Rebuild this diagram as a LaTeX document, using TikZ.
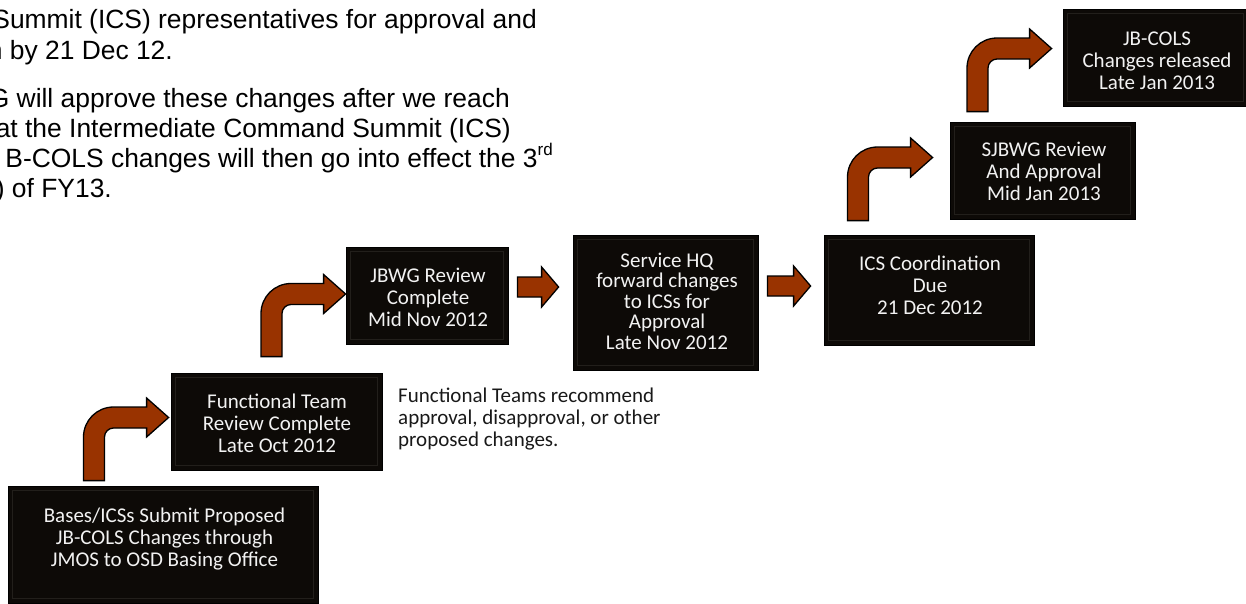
\documentclass[tikz,border=0pt]{standalone}
\usepackage{fontspec}
\setmainfont{Liberation Sans}
\newfontfamily\carlito{Carlito}
\usetikzlibrary{calc}
\definecolor{boxfill}{RGB}{13,10,7}
\definecolor{bevelc}{RGB}{34,31,27}
\definecolor{arrowfill}{RGB}{153,51,0}
\newcommand{\bentarr}[2]{%
  \path[blockarrow] let \p1=(#1), \p2=(#2) in
  (\x1-10.5pt,\y1) -- (\x1-10.5pt,\y2+10.5pt-30pt)
  arc[start angle=180,end angle=90,radius=30pt]
  -- (\x2-22pt,\y2+10.5pt) -- (\x2-22pt,\y2+19.5pt) -- (\x2,\y2)
  -- (\x2-22pt,\y2-19.5pt) -- (\x2-22pt,\y2-10.5pt)
  -- (\x1+19.5pt,\y2-10.5pt)
  arc[start angle=90,end angle=180,radius=9pt]
  -- (\x1+10.5pt,\y1) -- cycle;}
\newcommand{\straightarr}[2]{%
  \path[blockarrow] let \p1=(#1), \p2=(#2) in
  (\x1,\y1+10pt) -- (\x2-17pt,\y1+10pt) -- (\x2-17pt,\y1+20pt) -- (\x2,\y1)
  -- (\x2-17pt,\y1-20pt) -- (\x2-17pt,\y1-10pt) -- (\x1,\y1-10pt) -- cycle;}
\tikzset{
  stagebox/.style={fill=boxfill, draw=black, line width=0.8pt, inner sep=0pt},
  bevel/.style={draw=bevelc, line width=1pt},
  boxtext/.style={text=white!95!black, font=\carlito\fontsize{21}{22}\selectfont, align=center, inner sep=0pt},
  notetext/.style={text=black!90, font=\carlito\fontsize{21}{21.7}\selectfont, align=left, inner sep=0pt},
  bodytext/.style={text=black, font=\fontsize{26.4}{30}\selectfont, inner sep=0pt},
  blockarrow/.style={fill=arrowfill, draw=black, line width=1.3pt, line join=miter},
}
\begin{document}
\begin{tikzpicture}[x=1pt,y=-1pt]
\useasboundingbox (0,0) rectangle (1246,603);
% top-left text (cut off at the left edge)
\node[bodytext, anchor=base east] (l1) at (537,28) {Summit (ICS) representatives for approval and};
\node[bodytext, anchor=base east] (l2) at (173,59) {n by 21 Dec 12.};
\node[bodytext, anchor=base east] (l3) at (510,107) {G will approve these changes after we reach};
\node[bodytext, anchor=base east] (l4) at (511,137) {at the Intermediate Command Summit (ICS)};
\node[bodytext, anchor=base east] (l5) at (553,167) {B-COLS changes will then go into effect the 3\raisebox{0.42em}{\fontsize{17}{17}\selectfont rd}};
\node[bodytext, anchor=base east] (l6) at (112,197) {) of FY13.};
% boxes
\node[stagebox, minimum width=310pt, minimum height=117pt] (b1) at (163,544.5) {};
\node[stagebox, minimum width=211pt, minimum height=97pt] (b2) at (276.5,421.5) {};
\node[stagebox, minimum width=162pt, minimum height=97pt] (b3) at (427,295.5) {};
\node[stagebox, minimum width=185pt, minimum height=135pt] (b4) at (665.5,302.5) {};
\node[stagebox, minimum width=210pt, minimum height=110pt] (b5) at (929,290) {};
\node[stagebox, minimum width=185pt, minimum height=97pt] (b6) at (1042.5,170.5) {};
\node[stagebox, minimum width=185pt, minimum height=97pt] (b7) at (1155.5,57.5) {};
\foreach \b in {b1,b2,b3,b4,b5,b6,b7}{
  \draw[bevel] ([shift={(5pt,-5pt)}]\b.north west) rectangle ([shift={(-5pt,5pt)}]\b.south east);
}
% box texts
\node[boxtext] (t1) at (164.5,539) {Bases/ICSs Submit Proposed\\JB-COLS Changes through\\JMOS to OSD Basing Office};
\node[boxtext] (t2) at (277,423) {Functional Team\\Review Complete\\Late Oct 2012};
\node[boxtext] (t3) at (428,297.5) {JBWG Review\\Complete\\Mid Nov 2012};
\node[boxtext, font=\carlito\fontsize{21}{20.5}\selectfont] (t4) at (667,301) {Service HQ\\forward changes\\to ICSs for\\Approval\\Late Nov 2012};
\node[boxtext] (t5) at (930,285.5) {ICS Coordination\\Due\\21 Dec 2012};
\node[boxtext] (t6) at (1044,171.5) {SJBWG Review\\And Approval\\Mid Jan 2013};
\node[boxtext] (t7) at (1157,60.5) {JB-COLS\\Changes released\\Late Jan 2013};
% note
\node[notetext, anchor=north west] (note) at (398,388) {Functional Teams recommend\\approval, disapproval, or other\\proposed changes.};
% arrow end points
\coordinate (a1s) at ([xshift=-69pt,yshift=5pt]b1.north);
\coordinate (a1e) at ([xshift=-2pt,yshift=4pt]b2.west);
\coordinate (a2s) at ([xshift=-5pt,yshift=16pt]b2.north);
\coordinate (a2e) at ([yshift=1.5pt]b3.west);
\coordinate (s1s) at ([xshift=9pt,yshift=8.5pt]b3.east);
\coordinate (s1e) at ([xshift=-14pt,yshift=15.5pt]b4.west);
\coordinate (s2s) at ([xshift=9pt,yshift=16.5pt]b4.east);
\coordinate (s2e) at ([xshift=-13pt,yshift=4pt]b5.west);
\coordinate (a3s) at ([xshift=-71pt,yshift=14pt]b5.north);
\coordinate (a3e) at ([xshift=-17pt,yshift=13pt]b6.west);
\coordinate (a4s) at ([xshift=-65pt,yshift=10pt]b6.north);
\coordinate (a4e) at ([xshift=-11pt,yshift=9pt]b7.west);
% arrows
\bentarr{a1s}{a1e}
\bentarr{a2s}{a2e}
\straightarr{s1s}{s1e}
\straightarr{s2s}{s2e}
\bentarr{a3s}{a3e}
\bentarr{a4s}{a4e}
\end{tikzpicture}
\end{document}
